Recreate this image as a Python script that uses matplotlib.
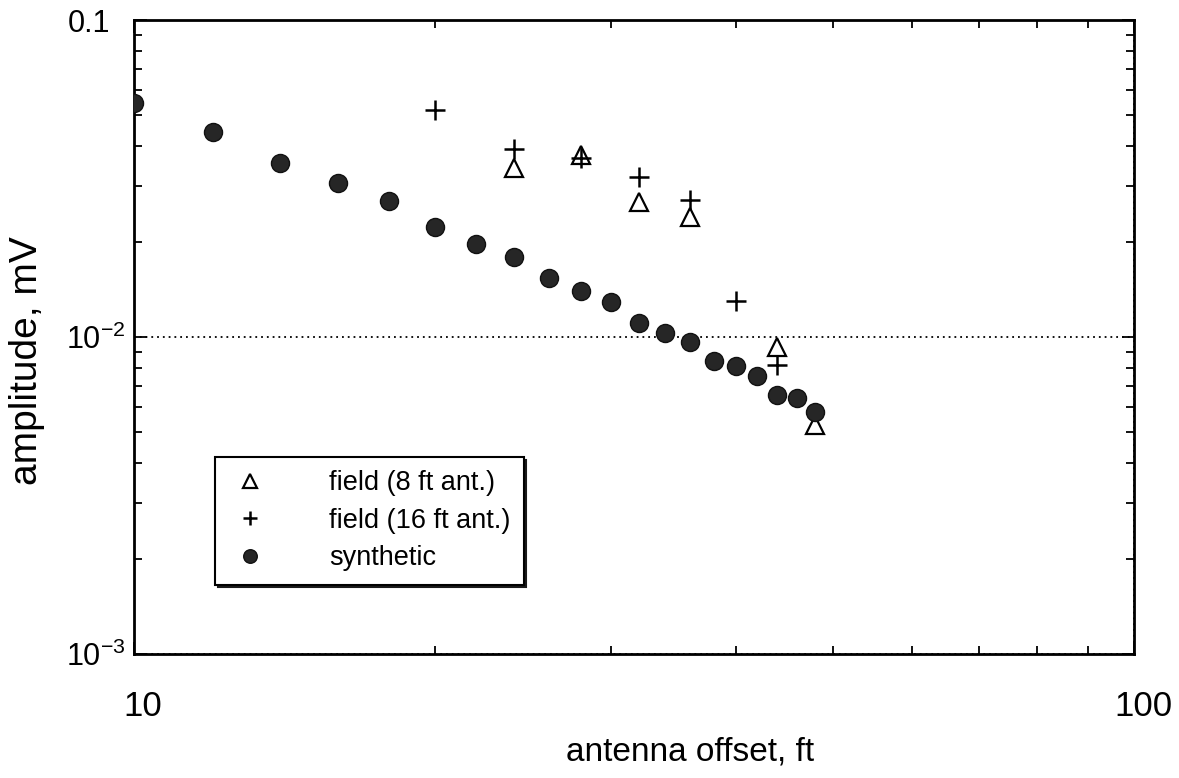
import matplotlib
matplotlib.use("Agg")
import matplotlib.pyplot as plt
import matplotlib.ticker as mticker
import matplotlib.transforms as mtransforms
import numpy as np

# antenna offset (ft) and amplitude (mV)
synth_offset = [10, 12, 14, 16, 18, 20, 22, 24, 26, 28,
                30, 32, 34, 36, 38, 40, 42, 44, 46, 48]
synth_amp = [0.0547, 0.0443, 0.0354, 0.0306, 0.0269, 0.0222, 0.0197, 0.0179, 0.0153, 0.0140,
             0.0129, 0.0111, 0.0103, 0.00965, 0.00840, 0.00811, 0.00753, 0.00656, 0.00642, 0.00580]

field8_offset = [24, 28, 32, 36, 44, 48]
field8_amp = [0.0341, 0.0375, 0.0267, 0.0239, 0.00930, 0.00528]

field16_offset = [20, 24, 28, 32, 36, 40, 44]
field16_amp = [0.0520, 0.0392, 0.0367, 0.0320, 0.0271, 0.0130, 0.00817]

legend_labels = ["field (8 ft ant.)", "field (16 ft ant.)", "synthetic"]
ytick_vals = [1e-3, 1e-2, 1e-1]
ytick_labels = [r"$\mathdefault{10^{-3}}$", r"$\mathdefault{10^{-2}}$", "0.1"]
xtick_vals = [10, 100]
xtick_labels = ["10", "100"]

plt.rcParams["font.family"] = ["Liberation Sans", "DejaVu Sans"]
plt.rcParams["mathtext.fontset"] = "custom"
plt.rcParams["mathtext.rm"] = "Liberation Sans"
plt.rcParams["axes.unicode_minus"] = False

fig = plt.figure(figsize=(11.79, 7.78), dpi=100)
ax = fig.add_axes([134 / 1179, 124 / 778, 1000 / 1179, 634 / 778])

ax.plot(field8_offset, field8_amp, ls="none", marker="^", ms=12.5,
        mfc="white", mec="black", mew=1.6, label=legend_labels[0], zorder=3)
ax.plot(field16_offset, field16_amp, ls="none", marker="+", ms=14,
        color="black", mew=1.8, label=legend_labels[1], zorder=3)
ax.plot(synth_offset, synth_amp, ls="none", marker="o", ms=13,
        mfc="#262626", mec="#111111", mew=1, label=legend_labels[2], zorder=3)

ax.set_xscale("log")
ax.set_yscale("log")
ax.set_xlim(10, 100)
ax.set_ylim(1e-3, 1e-1)

ax.set_xticks(xtick_vals, labels=xtick_labels)
ax.set_yticks(ytick_vals, labels=ytick_labels)
ax.xaxis.set_minor_formatter(mticker.NullFormatter())
ax.yaxis.set_minor_formatter(mticker.NullFormatter())

ax.grid(True, which="major", ls=(0, (1, 2.2)), color="black", lw=1.3)

ax.tick_params(which="both", direction="in", top=True, right=True, width=1.3)
ax.tick_params(which="major", length=9)
ax.tick_params(which="minor", length=6)
ax.tick_params(axis="x", which="major", labelsize=25, pad=26)
ax.tick_params(axis="y", which="major", labelsize=22, pad=6)
for s in ax.spines.values():
    s.set_linewidth(2)

# nudge tick labels the way they sit on the page
dx = mtransforms.ScaledTranslation(9 / 100, 0, fig.dpi_scale_trans)
for lab in ax.get_xticklabels():
    lab.set_transform(lab.get_transform() + dx)
dy = mtransforms.ScaledTranslation(-15 / 100, 0, fig.dpi_scale_trans)
ax.get_yticklabels()[-1].set_transform(ax.get_yticklabels()[-1].get_transform() + dy)

ax.set_xlabel("antenna offset, ft", fontsize=24)
ax.set_ylabel("amplitude, mV", fontsize=28)
ax.xaxis.set_label_coords(0.556, -0.13)
ax.yaxis.set_label_coords(-0.089, 0.462)

leg = ax.legend(loc="upper left", bbox_to_anchor=(0.081, 0.311), borderaxespad=0,
                fontsize=19.5, markerscale=0.75, handlelength=1.6, handletextpad=2.1,
                borderpad=0.5, labelspacing=0.42, fancybox=False, framealpha=1,
                edgecolor="black", shadow={"color": "#1a1a1a", "alpha": 1})
leg.get_frame().set_linewidth(1.5)

fig.savefig("out.png", dpi=100)
